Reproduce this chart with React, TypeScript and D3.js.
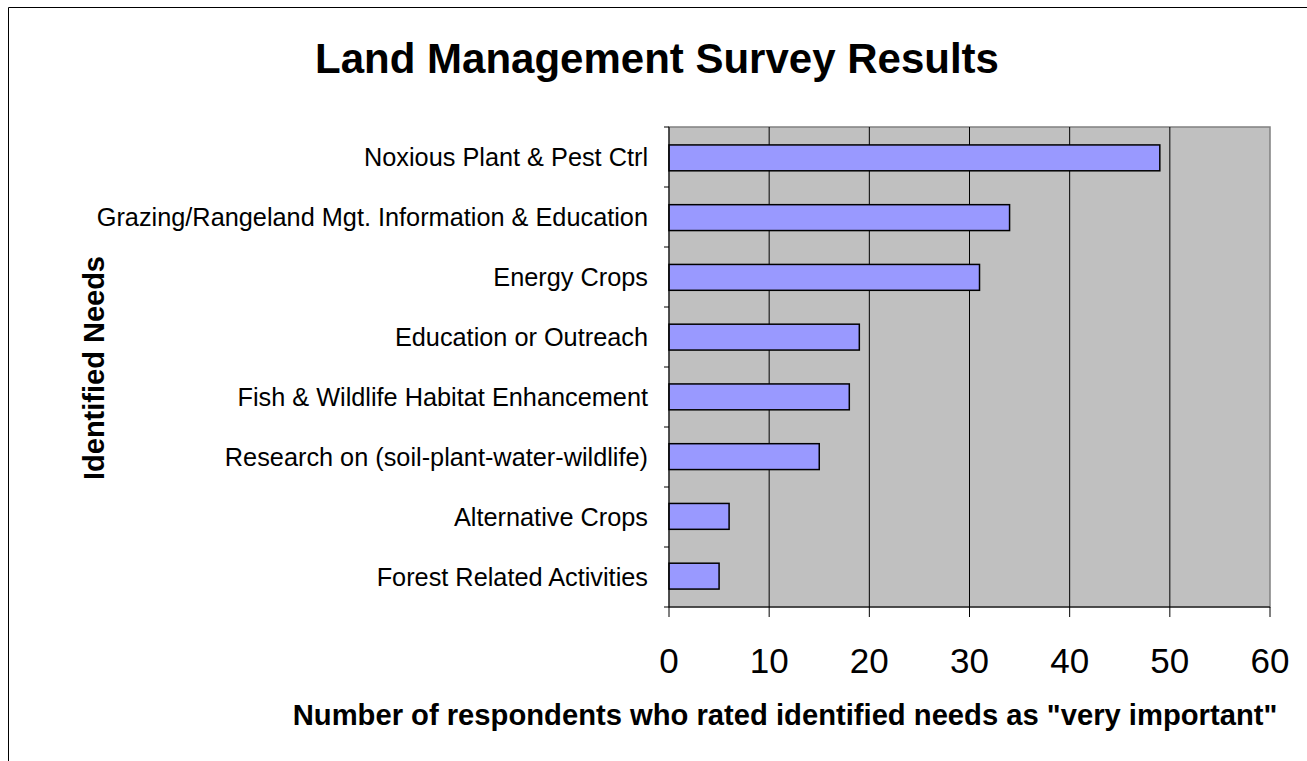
import React from "react";
import * as d3 from "d3";

const categories = [
  "Noxious Plant & Pest Ctrl",
  "Grazing/Rangeland Mgt. Information & Education",
  "Energy Crops",
  "Education or Outreach",
  "Fish & Wildlife Habitat Enhancement",
  "Research on (soil-plant-water-wildlife)",
  "Alternative Crops",
  "Forest Related Activities",
];
const respondents = [49, 34, 31, 19, 18, 15, 6, 5];
const xTicks = [0, 10, 20, 30, 40, 50, 60];

const W = 1307;
const H = 761;
const plot = { left: 669, right: 1270, top: 127, bottom: 607 };
const font = "Liberation Sans, Arial, sans-serif";
const labelSize = 25.3;

export default function App() {
  const x = d3.scaleLinear().domain([0, 60]).range([plot.left, plot.right]);
  const band = d3.scaleBand<string>().domain(categories).range([plot.top, plot.bottom]);
  const y = d3
    .scaleBand<string>()
    .domain(categories)
    .range([plot.top, plot.bottom])
    .paddingInner(0.567)
    .paddingOuter(0.3);
  const step = band.step();

  return (
    <svg
      width={W}
      height={H}
      style={{ position: "absolute", left: 0, top: 0, background: "#fff" }}
    >
      {/* chart frame */}
      <line x1={8.5} y1={7.5} x2={W} y2={7.5} stroke="#000" strokeWidth={1} />
      <line x1={8.5} y1={7.5} x2={8.5} y2={H} stroke="#000" strokeWidth={1} />

      <text
        x={657}
        y={73}
        textAnchor="middle"
        fontFamily={font}
        fontWeight="bold"
        fontSize={42}
      >
        Land Management Survey Results
      </text>

      {/* plot area */}
      <rect
        x={plot.left}
        y={plot.top}
        width={plot.right - plot.left}
        height={plot.bottom - plot.top}
        fill="#C0C0C0"
        stroke="#808080"
        strokeWidth={1.5}
      />
      {xTicks.slice(1, -1).map((t) => (
        <line
          key={"g" + t}
          x1={x(t)}
          x2={x(t)}
          y1={plot.top}
          y2={plot.bottom}
          stroke="#000"
          strokeWidth={1}
        />
      ))}

      {/* bars */}
      {categories.map((c, i) => (
        <rect
          key={c}
          x={x(0)}
          y={y(c)}
          width={x(respondents[i]) - x(0)}
          height={y.bandwidth()}
          fill="#9999FF"
          stroke="#000"
          strokeWidth={1.5}
        />
      ))}

      {/* category axis */}
      <line x1={plot.left} x2={plot.left} y1={plot.top} y2={plot.bottom} stroke="#000" strokeWidth={1} />
      {d3.range(categories.length + 1).map((i) => (
        <line
          key={"yt" + i}
          x1={plot.left - 5}
          x2={plot.left}
          y1={plot.top + i * step}
          y2={plot.top + i * step}
          stroke="#000"
        />
      ))}
      {categories.map((c) => (
        <text
          key={"l" + c}
          x={648}
          y={(band(c) as number) + step / 2 + 0.358 * labelSize}
          textAnchor="end"
          fontFamily={font}
          fontSize={labelSize}
        >
          {c}
        </text>
      ))}

      {/* value axis */}
      <line x1={plot.left} x2={plot.right} y1={plot.bottom} y2={plot.bottom} stroke="#000" strokeWidth={1} />
      {xTicks.map((t) => (
        <g key={"xt" + t}>
          <line x1={x(t)} x2={x(t)} y1={plot.bottom} y2={plot.bottom + 10} stroke="#000" />
          <text
            x={x(t)}
            y={673}
            textAnchor="middle"
            fontFamily={font}
            fontSize={35}
          >
            {t}
          </text>
        </g>
      ))}

      <text
        x={785}
        y={725}
        textAnchor="middle"
        fontFamily={font}
        fontWeight="bold"
        fontSize={29.2}
      >
        Number of respondents who rated identified needs as "very important"
      </text>
      <text
        transform="translate(104,368) rotate(-90)"
        textAnchor="middle"
        fontFamily={font}
        fontWeight="bold"
        fontSize={29}
      >
        Identified Needs
      </text>
    </svg>
  );
}
